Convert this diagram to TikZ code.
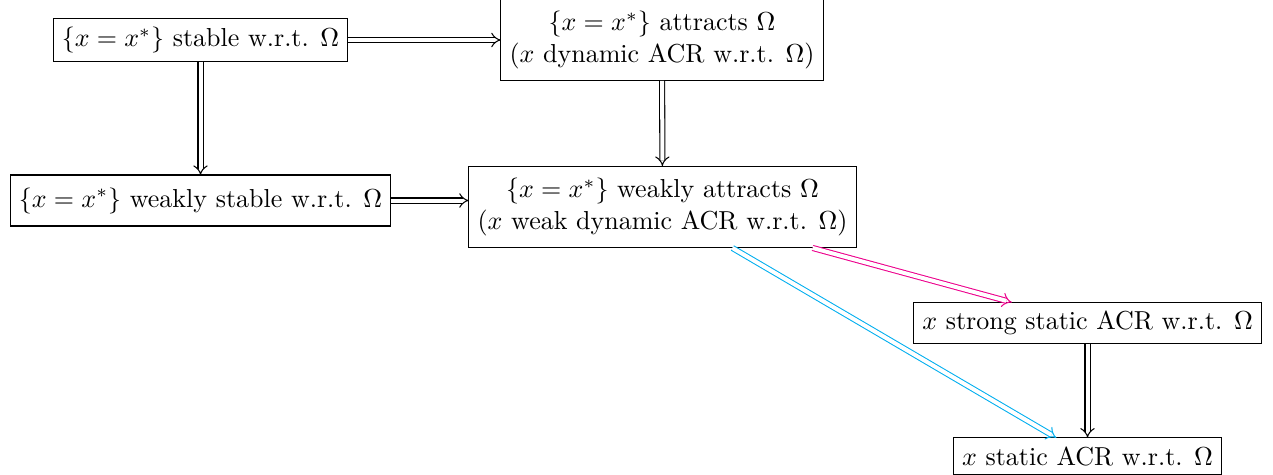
\documentclass[tikz,border=0pt]{standalone}
\usetikzlibrary{arrows.meta}
\definecolor{pinkarrow}{RGB}{236,0,140}
\definecolor{cyanarrow}{RGB}{0,174,239}
\tikzset{
  box/.style={draw, inner sep=0.3333em, outer sep=0pt},
  twobox/.style={box, align=center, minimum height=31.5pt},
  imp/.style={double equal sign distance, -{Implies}},
}
\begin{document}
\begin{tikzpicture}[x=0.3846pt, y=-0.3846pt]
\useasboundingbox (0,0) rectangle (1273,475);
\node[box] (A) at (200.5,40) {$\{x = x^*\}$ stable w.r.t. $\Omega$};
\node[twobox] (B) at (662,40) {$\{x = x^*\}$ attracts $\Omega$\\($x$ dynamic ACR w.r.t. $\Omega$)};
\node[box, minimum height=19.6pt] (C) at (200.5,200.5) {$\{x = x^*\}$ weakly stable w.r.t. $\Omega$};
\node[twobox] (D) at (662.5,207) {$\{x = x^*\}$ weakly attracts $\Omega$\\($x$ weak dynamic ACR w.r.t. $\Omega$)};
\node[box] (E) at (1087.5,323) {$x$ strong static ACR w.r.t. $\Omega$};
\node[box] (F) at (1087.5,456) {$x$ static ACR w.r.t. $\Omega$};
\draw[imp] (A) -- (B);
\draw[imp] (A) -- (C);
\draw[imp] (B) -- (D);
\draw[imp] (C.east) -- (C.east -| D.west);
\draw[imp, pinkarrow] (D) -- (E);
\draw[imp, cyanarrow] (D) -- (F);
\draw[imp] (E) -- (F);
\end{tikzpicture}
\end{document}
